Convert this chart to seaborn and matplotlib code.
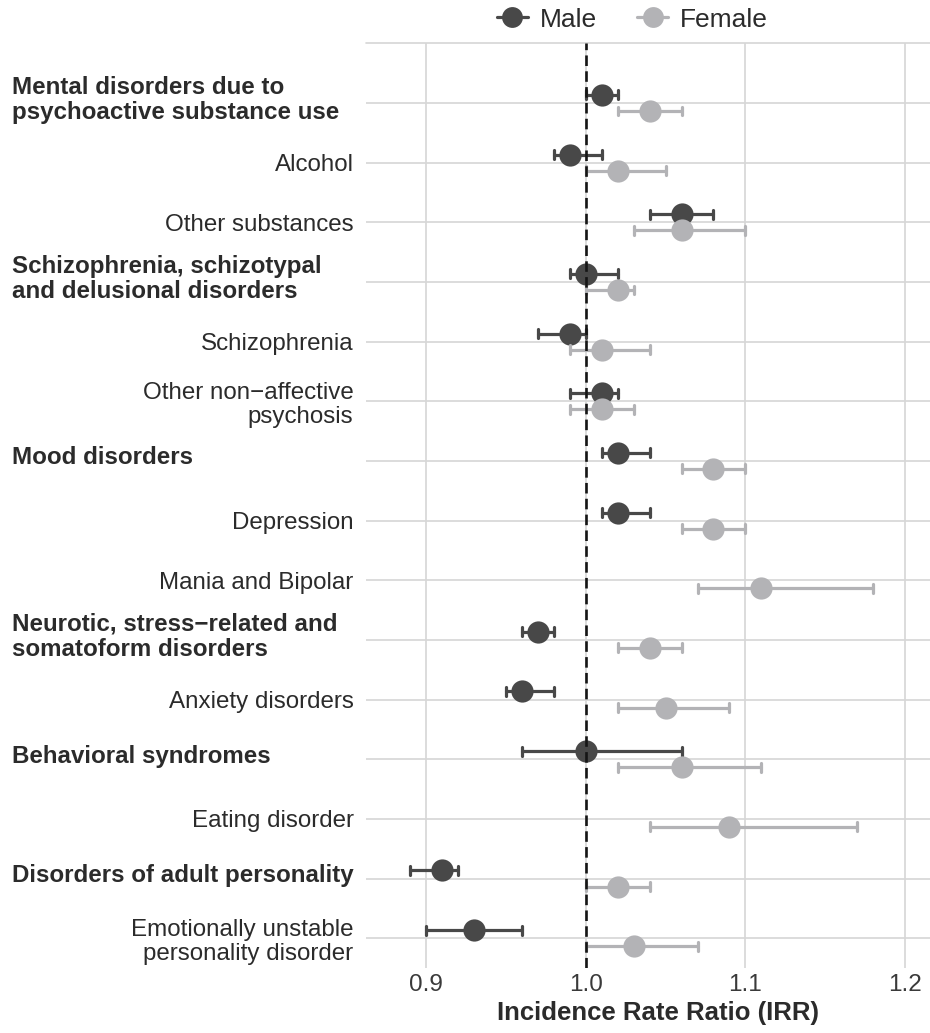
import numpy as np
import pandas as pd
import matplotlib
matplotlib.use("Agg")
import matplotlib.pyplot as plt
import matplotlib.transforms as mtransforms
from matplotlib.lines import Line2D
import seaborn as sns

# Diagnostic categories (top to bottom); group headings are flagged in is_group
categories = [
    "Mental disorders due to\npsychoactive substance use",
    "Alcohol",
    "Other substances",
    "Schizophrenia, schizotypal\nand delusional disorders",
    "Schizophrenia",
    "Other non\u2212affective\npsychosis",
    "Mood disorders",
    "Depression",
    "Mania and Bipolar",
    "Neurotic, stress\u2212related and\nsomatoform disorders",
    "Anxiety disorders",
    "Behavioral syndromes",
    "Eating disorder",
    "Disorders of adult personality",
    "Emotionally unstable\npersonality disorder",
]
is_group = [True, False, False, True, False, False, True, False, False,
            True, False, True, False, True, False]

nan = np.nan
male_irr = [1.01, 0.99, 1.06, 1.00, 0.99, 1.01, 1.02, 1.02, nan, 0.97, 0.96, 1.00, nan, 0.91, 0.93]
male_lo  = [1.00, 0.98, 1.04, 0.99, 0.97, 0.99, 1.01, 1.01, nan, 0.96, 0.95, 0.96, nan, 0.89, 0.90]
male_hi  = [1.02, 1.01, 1.08, 1.02, 1.00, 1.02, 1.04, 1.04, nan, 0.98, 0.98, 1.06, nan, 0.92, 0.96]

female_irr = [1.04, 1.02, 1.06, 1.02, 1.01, 1.01, 1.08, 1.08, 1.11, 1.04, 1.05, 1.06, 1.09, 1.02, 1.03]
female_lo  = [1.02, 1.00, 1.03, 1.00, 0.99, 0.99, 1.06, 1.06, 1.07, 1.02, 1.02, 1.02, 1.04, 1.00, 1.00]
female_hi  = [1.06, 1.05, 1.10, 1.03, 1.04, 1.03, 1.10, 1.10, 1.18, 1.06, 1.09, 1.11, 1.17, 1.04, 1.07]

sexes = ["Male", "Female"]
colors = {"Male": "#484848", "Female": "#b3b3b6"}
x_ticks = [0.9, 1.0, 1.1, 1.2]

# Long-form table: lower bound, estimate and upper bound per category/sex.
# The median gives the estimate; the min/max give the interval.
rows = []
for sex, est, lo, hi in [("Male", male_irr, male_lo, male_hi),
                         ("Female", female_irr, female_lo, female_hi)]:
    for cat, e, l, h in zip(categories, est, lo, hi):
        if np.isnan(e):
            continue
        for v in (l, e, h):
            rows.append({"category": cat, "sex": sex, "irr": v})
df = pd.DataFrame(rows)

sns.set_theme(style="whitegrid")
plt.rcParams["font.family"] = ["Liberation Sans", "DejaVu Sans"]
plt.rcParams["text.color"] = "#2b2b2b"

fig = plt.figure(figsize=(9.3, 10.33), dpi=100)
ax = fig.add_axes([366 / 930, 1 - 968 / 1033, 564 / 930, (968 - 43.3) / 1033])

sns.pointplot(
    data=df, x="irr", y="category", hue="sex",
    order=categories, hue_order=sexes, palette=colors,
    estimator="median", errorbar=lambda v: (v.min(), v.max()),
    dodge=0.27, linestyle="none", marker="o", markersize=16,
    markeredgewidth=0, capsize=0.15,
    err_kws={"linewidth": 2.3},
    legend=False, ax=ax,
)

# Reference line at IRR = 1
ax.axvline(1.0, color="#151515", lw=1.9, linestyle=(0, (4, 2)), zorder=10)

ax.set_xlim(0.8624, 1.2156)
ax.set_ylim(14.5, -1)
ax.set_xticks(x_ticks)
ax.set_xticklabels([f"{t:.1f}" for t in x_ticks])
ax.set_xlabel("Incidence Rate Ratio (IRR)", fontsize=18.5, fontweight="bold",
              color="#2b2b2b")
ax.xaxis.set_label_coords(0.517, -0.036)
ax.set_ylabel("")

for s in ax.spines.values():
    s.set_visible(False)
ax.grid(True, color="#d6d6d6", lw=1.2)
ax.axhline(-1, color="#d6d6d6", lw=1.2, clip_on=False, zorder=0)
ax.tick_params(axis="x", length=0, pad=4, labelsize=17.5, labelcolor="#3a3a3a")
ax.tick_params(axis="y", length=0, pad=9, labelsize=17.4, labelcolor="#2b2b2b")

# Group headings: bold, left-aligned at the figure edge; sub-items stay as tick labels
ylabels = [("" if g else c) for c, g in zip(categories, is_group)]
ax.set_yticks(range(len(categories)))
ax.set_yticklabels(ylabels, linespacing=1.15)
trans = mtransforms.blended_transform_factory(fig.transFigure, ax.transData)
for i, (c, g) in enumerate(zip(categories, is_group)):
    if g:
        ax.text(12 / 930, i - 0.05, c, transform=trans, ha="left", va="center",
                fontsize=17.4, fontweight="bold", color="#2b2b2b", linespacing=1.15)

handles = [Line2D([0], [0], color=colors[s], lw=2.3, marker="o", markersize=15,
                  markeredgewidth=0) for s in sexes]
fig.legend(handles, sexes, loc="center", bbox_to_anchor=(0.68, 0.981), ncol=2,
           frameon=False, fontsize=19, handlelength=1.2, handletextpad=0.45,
           columnspacing=1.5)

fig.savefig("out.png", dpi=100)
